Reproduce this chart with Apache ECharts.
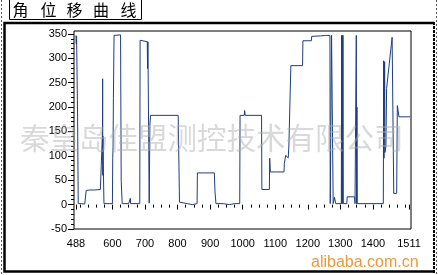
<!DOCTYPE html>
<html>
<head>
<meta charset="utf-8">
<script src="https://cdn.jsdelivr.net/npm/echarts@6/dist/echarts.min.js"></script>
<style>html,body{margin:0;padding:0;background:#fff;}#c{width:438px;height:275px;}</style>
</head>
<body>
<div id="c"></div>
<script>
// Angular displacement curve data [position, angle]
const xValues = [488,489,490,492,493,495,500,505,510,515,519,519.5,530,545,563,564,569,569.5,570,570.5,571,572,574,590,600,601,602,603,605,610,625,627,630,650,654,655,656,684,685,700,707,708,709,711,713,715,717,730,802,806,809,830,845,860,861,880,913,915,918,940,960,975,991,992,1005,1006,1008,1058,1059,1082,1083,1085,1100,1127,1128,1132,1138,1140,1142,1147,1148,1184,1185,1211,1212,1240,1255,1268,1269,1272,1273,1277,1278,1281,1282,1285,1286,1303,1304,1305,1306,1307,1308,1309,1320,1321,1344,1345,1349,1350,1351,1352,1432,1433,1434,1436,1437,1440,1442,1446,1459,1462,1464,1473,1475,1478,1480,1514];
const yValues = [347,330,345,345,180,2,0,2,0,1,2,29,30,30,31,33,33,150,258,60,140,80,2,2,2,95,120,217,347,349,348,48,2,2,2,13,2,2,337,335,334,279,334,334,3,163,183,183,183,5,2,2,0,2,65,65,65,26,2,2,0,2,2,183,183,193,183,183,31,31,95,67,67,67,84,101,101,96,122,125,285,285,336,336,345,346,347,347,2,2,347,347,2,2,15,15,2,2,347,2,347,2,347,2,2,16,16,2,347,2,200,2,2,295,95,293,107,120,238,238,343,343,23,23,203,190,180,180];
const xTickLabels = [488,600,700,800,900,1000,1100,1200,1300,1400,1511];
const yTickLabels = [-50,0,50,100,150,200,250,300,350];
const titleChars = ['角','位','移','曲','线'];
const watermark = '秦皇岛佳盟测控技术有限公司';
const siteText = 'alibaba.com.cn';

const xMinor = [];
for (let v = 500; v < 1511; v += 25) if (xTickLabels.indexOf(v) < 0) xMinor.push(v);
const yMinor = [];
for (let v = -50; v <= 350; v += 10) if (v % 50 !== 0) yMinor.push(v);

const series = xValues.map((x, i) => [x, yValues[i]]);

const chart = echarts.init(document.getElementById('c'), null, {renderer: 'canvas'});
const font = 'Liberation Sans, Arial, sans-serif';
const titleX = [20.5, 48.5, 74.5, 101, 128.5];

const graphics = [
  {type:'line', shape:{x1:1.5,y1:0,x2:1.5,y2:275}, style:{stroke:'#555', lineWidth:1, lineDash:[2,2]}, silent:true},
  {type:'line', shape:{x1:436.5,y1:0,x2:436.5,y2:275}, style:{stroke:'#555', lineWidth:1, lineDash:[2,2]}, silent:true},
  {type:'rect', shape:{x:9.5,y:-1,width:132,height:20.5}, style:{fill:'none', stroke:'#000', lineWidth:1}, silent:true},
  {type:'polyline', shape:{points:[[434,23],[4.5,23],[4.5,271.5],[434,271.5]]}, style:{stroke:'#000', fill:'none', lineWidth:2.5}, silent:true},
  {type:'line', shape:{x1:434,y1:22,x2:434,y2:273}, style:{stroke:'#000', lineWidth:2, lineDash:[3,1]}, silent:true},
  {type:'text', left:311, top:255, z:100, style:{text:siteText, fill:'#f0993a', font:'16px ' + font}, silent:true},
  {type:'text', left:20, top:123, z:100, style:{text:watermark, fill:'rgba(170,170,170,0.45)', font:'29.5px "Noto Sans CJK SC"'}, silent:true}
];
titleChars.forEach((ch, i) => {
  graphics.push({type:'text', x:titleX[i], y:10, z:100, style:{text:ch, fill:'#000', font:'16px "Noto Sans CJK SC"', align:'center', verticalAlign:'middle'}, silent:true});
});

chart.setOption({
  animation:false,
  backgroundColor:'#fff',
  grid:{left:74, right:27, top:31, bottom:46, show:true, borderColor:'#000', borderWidth:1, backgroundColor:'#fff'},
  xAxis:[{
    type:'value', min:482, max:1517,
    axisLine:{show:false},
    splitLine:{show:false},
    axisTick:{show:true, length:5, customValues:xTickLabels, lineStyle:{color:'#000'}},
    axisLabel:{customValues:xTickLabels, color:'#000', fontSize:11, fontFamily:font, margin:9, formatter:v => String(v)}
  },{
    type:'value', min:482, max:1517, position:'bottom',
    axisLine:{show:false}, splitLine:{show:false},
    axisTick:{show:true, length:3, customValues:xMinor, lineStyle:{color:'#000'}},
    axisLabel:{show:false}
  }],
  yAxis:[{
    type:'value', min:-50, max:356,
    axisLine:{show:false},
    splitLine:{show:false},
    axisTick:{show:true, length:6, customValues:yTickLabels, lineStyle:{color:'#000'}},
    axisLabel:{customValues:yTickLabels, color:'#000', fontSize:11, fontFamily:font, margin:7, formatter:v => String(v)}
  },{
    type:'value', min:-50, max:356, position:'left',
    axisLine:{show:false}, splitLine:{show:false},
    axisTick:{show:true, length:3, customValues:yMinor, lineStyle:{color:'#000'}},
    axisLabel:{show:false}
  }],
  series:[{
    type:'line', data:series, showSymbol:false, symbol:'none',
    lineStyle:{color:'#1d3d80', width:1}, xAxisIndex:0, yAxisIndex:0
  }],
  graphic:graphics
});
</script>
</body>
</html>
